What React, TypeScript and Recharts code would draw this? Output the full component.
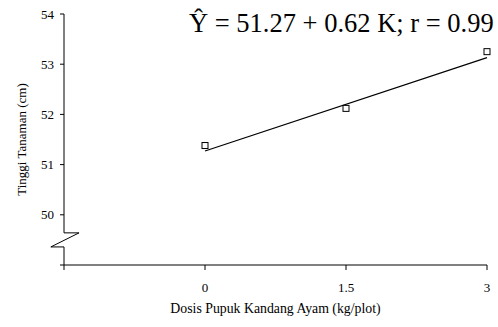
import React from 'react';
import { ComposedChart, XAxis, YAxis, Scatter, ReferenceLine, Label } from 'recharts';

// Observed data
const doses = [0, 1.5, 3];
const heights = [51.37, 52.11, 53.24];
// Regression line Ŷ = 51.27 + 0.62 K evaluated at the ends
const fitDoses = [0, 3];
const fitHeights = [51.27, 53.13];
// Axis ticks
const xTicks = [-1.5, 0, 1.5, 3];
const yTicks = [49, 50, 51, 52, 53, 54];
const xLabel = 'Dosis Pupuk Kandang Ayam (kg/plot)';
const yLabel = 'Tinggi Tanaman (cm)';
const equation = 'Ŷ = 51.27 + 0.62 K; r = 0.99';

const points = doses.map((d, i) => ({ x: d, y: heights[i] }));
const fitPoints = fitDoses.map((d, i) => ({ x: d, y: fitHeights[i] }));

const FONT = '"Liberation Serif", "Times New Roman", Times, serif';

const xMin = xTicks[0];
const xMax = xTicks[xTicks.length - 1];
const yMin = yTicks[0];
const yMax = yTicks[yTicks.length - 1];

// axis-break geometry (in data units)
const brkTop = 49.64;
const brkBot = 49.36;
const brkRight = xMin + 0.16;
const brkLeft = xMin - 0.14;
const axisSegments = [
  [{ x: xMin, y: yMax }, { x: xMin, y: brkTop }],
  [{ x: xMin, y: brkTop }, { x: brkRight, y: brkTop }],
  [{ x: brkRight, y: brkTop }, { x: brkLeft, y: brkBot }],
  [{ x: brkLeft, y: brkBot }, { x: xMin, y: brkBot }],
  [{ x: xMin, y: brkBot }, { x: xMin, y: yMin }],
];

const Square = (props: any) => {
  const { cx, cy } = props;
  if (cx == null || cy == null) return <g />;
  return <rect x={cx - 3} y={cy - 3.5} width={6} height={6} fill="#fff" stroke="#000" strokeWidth={1} />;
};

const Nothing = () => <g />;

export default function App() {
  return (
    <div style={{ position: 'absolute', left: 0, top: 0, width: 498, height: 327, background: '#fff' }}>
      <ComposedChart width={498} height={327} margin={{ top: 14, right: 11, left: 0, bottom: 0 }}>
        <XAxis
          dataKey="x"
          type="number"
          domain={[xMin, xMax]}
          ticks={xTicks}
          height={62}
          axisLine={{ stroke: '#000', strokeWidth: 1 }}
          tickLine={{ stroke: '#000' }}
          tickSize={5}
          tickMargin={13}
          tick={{ fill: '#000', fontSize: 13, fontFamily: FONT }}
          tickFormatter={(v: number) => (v === xMin ? '' : String(v))}
          interval={0}
        >
          <Label
            value={xLabel}
            position="insideBottom"
            offset={14}
            style={{ fill: '#000', fontSize: 13.8, fontFamily: FONT }}
          />
        </XAxis>
        <YAxis
          dataKey="y"
          type="number"
          domain={[yMin, yMax]}
          ticks={yTicks}
          width={64}
          axisLine={false}
          tickLine={{ stroke: '#000' }}
          tickSize={4}
          tickMargin={6}
          tick={{ fill: '#000', fontSize: 13, fontFamily: FONT }}
          tickFormatter={(v: number) => (v === yMin ? '' : String(v))}
          interval={0}
        >
          <Label
            value={yLabel}
            angle={-90}
            position="insideLeft"
            offset={21}
            style={{ fill: '#000', fontSize: 13, fontFamily: FONT, textAnchor: 'middle' }}
          />
        </YAxis>
        {axisSegments.map((seg, i) => (
          <ReferenceLine key={i} segment={seg} stroke="#000" strokeWidth={1} ifOverflow="visible" />
        ))}
        <Scatter
          data={fitPoints}
          line={{ stroke: '#000', strokeWidth: 1.2 }}
          shape={Nothing}
          isAnimationActive={false}
        />
        <Scatter data={points} shape={Square} isAnimationActive={false} />
      </ComposedChart>
      <div
        style={{
          position: 'absolute',
          left: 189,
          top: 10,
          fontFamily: FONT,
          fontSize: 26.5,
          lineHeight: '26px',
          whiteSpace: 'nowrap',
          color: '#000',
        }}
      >
        {equation}
      </div>
    </div>
  );
}
